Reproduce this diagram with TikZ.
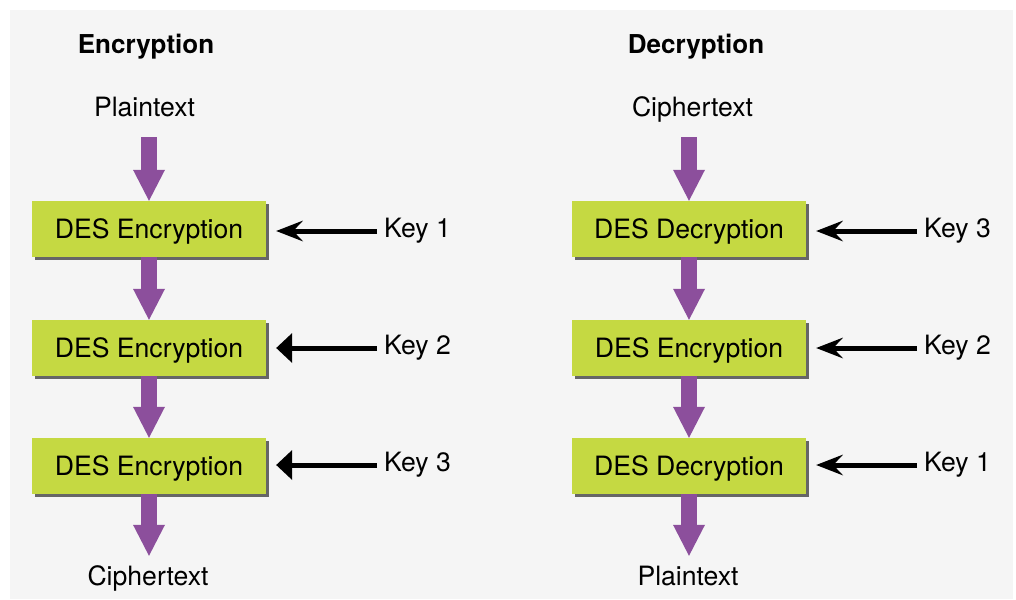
\documentclass[tikz,border=0pt]{standalone}
\usepackage{fontspec}
\setmainfont{TeX Gyre Heros}
\usepackage{tikz}
\usetikzlibrary{arrows.meta,shadows}
\definecolor{desgreen}{HTML}{C5D942}
\definecolor{flowpurple}{HTML}{8C4F9C}
\definecolor{panelgray}{HTML}{F5F5F5}
\tikzset{
  desbox/.style={fill=desgreen,minimum width=234pt,minimum height=56pt,inner sep=0pt,
    text height=19pt,text depth=0pt,font=\fontsize{26.6}{30}\selectfont,
    drop shadow={shadow xshift=3pt,shadow yshift=-3pt,fill=black!60,opacity=1}},
  lbl/.style={inner sep=0pt,text height=19pt,text depth=0pt,font=\fontsize{26.6}{30}\selectfont},
  ttl/.style={lbl,font=\fontsize{26}{30}\selectfont\bfseries},
  keylbl/.style={lbl,text depth=7pt,anchor=west},
  flow/.style={draw=flowpurple,line width=16pt,-{Triangle[length=31pt,width=32pt,line width=0pt]}},
  keyin/.style={draw=black,line width=5pt,shorten <=7pt,shorten >=10pt,
    -{Stealth[length=27pt,width=21pt,inset=10pt,line width=0pt]}},
  keyinb/.style={keyin,-{Triangle[length=16pt,width=30pt,line width=0pt]}}
}
\begin{document}
\begin{tikzpicture}[x=1pt,y=-1pt]
	\useasboundingbox[fill=white] (0,0) rectangle (1016,599);
	\fill[panelgray] (10,10) rectangle (1013,599);
	% encryption side
	\node at (146,44) [ttl] (enctitle) {Encryption};
	\node at (144.5,107.5) [lbl] (encin) {Plaintext};
	\node at (149,229) [desbox] (enc1) {DES Encryption};
	\node at (149,348) [desbox] (enc2) {DES Encryption};
	\node at (149,466) [desbox] (enc3) {DES Encryption};
	\node at (148,575.5) [lbl] (encout) {Ciphertext};
	\node at (384,231) [keylbl] (ek1) {Key 1};
	\node at (384,348) [keylbl] (ek2) {Key 2};
	\node at (384,465) [keylbl] (ek3) {Key 3};
	\draw[flow] (enc1.north |- encin.south) ++(0,20) -- (enc1.north);
	\draw[flow] (enc1.south) -- (enc2.north);
	\draw[flow] (enc2.south) -- (enc3.north);
	\draw[flow] (enc3.south) -- ([yshift=10pt]enc3.south |- encout.north);
	\draw[keyin] (ek1.west) -- (ek1.west -| enc1.east);
	\draw[keyinb] (ek2.west) -- (ek2.west -| enc2.east);
	\draw[keyinb] (ek3.west) -- (ek3.west -| enc3.east);
	% decryption side
	\node at (696,44) [ttl] (dectitle) {Decryption};
	\node at (692.5,107.5) [lbl] (decin) {Ciphertext};
	\node at (689,229) [desbox] (dec1) {DES Decryption};
	\node at (689,348) [desbox] (dec2) {DES Encryption};
	\node at (689,466) [desbox] (dec3) {DES Decryption};
	\node at (688,575.5) [lbl] (decout) {Plaintext};
	\node at (924,231) [keylbl] (dk3) {Key 3};
	\node at (924,348) [keylbl] (dk2) {Key 2};
	\node at (924,465) [keylbl] (dk1) {Key 1};
	\draw[flow] (dec1.north |- decin.south) ++(0,20) -- (dec1.north);
	\draw[flow] (dec1.south) -- (dec2.north);
	\draw[flow] (dec2.south) -- (dec3.north);
	\draw[flow] (dec3.south) -- ([yshift=10pt]dec3.south |- decout.north);
	\draw[keyin] (dk3.west) -- (dk3.west -| dec1.east);
	\draw[keyin] (dk2.west) -- (dk2.west -| dec2.east);
	\draw[keyin] (dk1.west) -- (dk1.west -| dec3.east);
\end{tikzpicture}
\end{document}
